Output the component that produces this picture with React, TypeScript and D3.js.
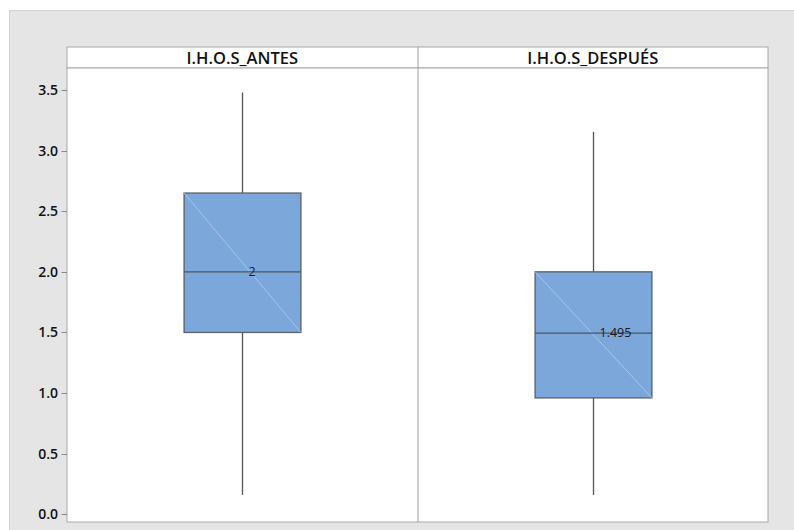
import React from "react";
import * as d3 from "d3";

const categories = ["I.H.O.S_ANTES", "I.H.O.S_DESPUÉS"];
const whiskerLow = [0.16, 0.16];
const q1 = [1.5, 0.96];
const median = [2.0, 1.495];
const q3 = [2.65, 2.0];
const whiskerHigh = [3.48, 3.155];
const medianLabels = ["2", "1.495"];
const yTicks = [0, 0.5, 1.0, 1.5, 2.0, 2.5, 3.0, 3.5];

const W = 794;
const H = 530;
const plotLeft = 67;
const plotRight = 768;
const headerTop = 47;
const plotTop = 68;
const plotBottom = 522;

export default function App() {
  const x = d3.scaleBand<string>().domain(categories).range([plotLeft, plotRight]).paddingInner(0).paddingOuter(0);
  const y = d3.scaleLinear().domain([0, 3.5]).range([514.3, 90]);
  const bw = x.bandwidth() / 3;
  const font = "'Open Sans', 'Noto Sans', sans-serif";

  return (
    <svg width={W} height={H} style={{ position: "absolute", left: 0, top: 0, background: "#fff" }}>
      <rect x={9} y={10} width={W - 9} height={H - 10} fill="#e5e5e5" />
      <line x1={9} x2={W} y1={10.5} y2={10.5} stroke="#d4d4d4" />
      <line x1={9.5} x2={9.5} y1={10} y2={H} stroke="#d4d4d4" />
      {/* header */}
      <rect x={plotLeft} y={headerTop} width={plotRight - plotLeft} height={plotTop - headerTop} fill="#fff" stroke="#a8a8a8" />
      {/* plot area */}
      <rect x={plotLeft} y={plotTop} width={plotRight - plotLeft} height={plotBottom - plotTop} fill="#fff" stroke="#a8a8a8" />
      {categories.slice(1).map((c) => (
        <line key={c} x1={(x(c) as number) + 0.5} x2={(x(c) as number) + 0.5} y1={headerTop} y2={plotBottom} stroke="#a0a0a0" />
      ))}
      {categories.map((c) => (
        <text key={c} x={(x(c) as number) + x.bandwidth() / 2} y={63.5} textAnchor="middle" fontFamily={font} fontWeight={600} fontSize={16.5} fill="#111">
          {c}
        </text>
      ))}
      {/* y axis ticks */}
      {yTicks.map((t) => (
        <g key={t}>
          <line x1={61.5} x2={plotLeft} y1={Math.round(y(t)) + 0.5} y2={Math.round(y(t)) + 0.5} stroke="#8a8a8a" />
          <text x={58} y={y(t)} dy="0.35em" textAnchor="end" fontFamily={font} fontWeight={600} fontSize={14} fill="#111">
            {t.toFixed(1)}
          </text>
        </g>
      ))}
      {/* boxes */}
      {categories.map((c, i) => {
        const cx = Math.round((x(c) as number) + x.bandwidth() / 2) + 0.5;
        const left = cx - bw / 2;
        const right = cx + bw / 2;
        return (
          <g key={c}>
            <line x1={cx} x2={cx} y1={y(whiskerHigh[i])} y2={y(q3[i])} stroke="#555" strokeWidth={1.3} />
            <line x1={cx} x2={cx} y1={y(q1[i])} y2={y(whiskerLow[i])} stroke="#555" strokeWidth={1.3} />
            <rect x={left} y={y(q3[i])} width={bw} height={y(q1[i]) - y(q3[i])} fill="#7ba7da" stroke="#5b5f66" strokeWidth={1.3} />
            <line x1={left} y1={y(q3[i])} x2={right} y2={y(q1[i])} stroke="#b3cdee" strokeWidth={0.8} />
            <line x1={left} x2={right} y1={y(median[i])} y2={y(median[i])} stroke="#4f545b" strokeWidth={1.3} />
            <text x={cx + 6} y={y(median[i])} dy="0.3em" fontFamily={font} fontSize={12.5} fill="#1a1a1a">
              {medianLabels[i]}
            </text>
          </g>
        );
      })}
    </svg>
  );
}
